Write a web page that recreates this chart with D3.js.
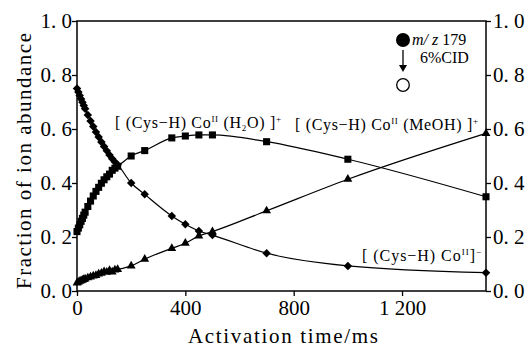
<!DOCTYPE html>
<html>
<head>
<meta charset="utf-8">
<script src="https://cdn.jsdelivr.net/npm/d3@7"></script>
<style>
  body { margin: 0; background: #fff; }
</style>
</head>
<body>
<div id="chart"></div>
<script>
// activation times (ms)
var times = [0, 5, 10, 15, 20, 25, 30, 40, 50, 60, 70, 80, 90, 100, 110, 120, 130, 140, 150,
             200, 250, 350, 400, 450, 500, 700, 1000, 1510];

// [(Cys-H)Co(II)]-  (diamonds, decreasing)
var coValues = [0.750, 0.737, 0.724, 0.711, 0.699, 0.687, 0.675, 0.652, 0.630, 0.609, 0.589, 0.570,
                0.552, 0.535, 0.519, 0.504, 0.490, 0.478, 0.468,
                0.400, 0.358, 0.278, 0.247, 0.222, 0.207, 0.140, 0.093, 0.068];

// [(Cys-H)Co(II)(H2O)]+  (squares)
var h2oValues = [0.220, 0.233, 0.245, 0.258, 0.269, 0.281, 0.292, 0.313, 0.333, 0.352, 0.369, 0.384,
                 0.399, 0.412, 0.423, 0.433, 0.447, 0.455, 0.462,
                 0.500, 0.520, 0.567, 0.574, 0.578, 0.578, 0.553, 0.488, 0.349];

// [(Cys-H)Co(II)(MeOH)]+  (triangles, increasing)
var meohValues = [0.030, 0.033, 0.036, 0.038, 0.040, 0.043, 0.045, 0.049, 0.052, 0.056, 0.058, 0.063,
                  0.066, 0.072, 0.070, 0.076, 0.071, 0.078, 0.080,
                  0.093, 0.118, 0.158, 0.177, 0.204, 0.220, 0.297, 0.414, 0.584];

var yTicks = [0, 0.2, 0.4, 0.6, 0.8, 1.0];
var xTicks = [0, 400, 800, 1200];

var FONT = "'Liberation Serif'";
var W = 531, H = 347;
var svg = d3.select("#chart").append("svg")
    .attr("width", W).attr("height", H);

var x = d3.scaleLinear().domain([0, 1510]).range([77, 486]);
var y = d3.scaleLinear().domain([0, 1]).range([291, 21]);

var fmtY = function (d) { return d3.format(".1f")(d).replace(".", ". "); };
var fmtX = function (d) { return d >= 1000 ? "1 " + d3.format("03d")(d % 1000) : String(d); };

// frame
svg.append("rect")
    .attr("x", 77).attr("y", 21)
    .attr("width", 486 - 77).attr("height", 291 - 21)
    .attr("fill", "none").attr("stroke", "#000").attr("stroke-width", 1.5);

function styleAxis(g, size) {
    g.attr("font-family", null);
    g.select(".domain").remove();
    g.selectAll(".tick line").attr("stroke", "#000").attr("stroke-width", 1.3);
    g.selectAll(".tick text").attr("font-size", size).attr("fill", "#000");
}

svg.append("g")
    .attr("transform", "translate(77,0)")
    .call(d3.axisLeft(y).tickValues(yTicks).tickFormat(fmtY).tickSize(5).tickPadding(0))
    .call(styleAxis, 21);

svg.append("g")
    .attr("transform", "translate(486,0)")
    .call(d3.axisRight(y).tickValues(yTicks).tickFormat(fmtY).tickSize(5).tickPadding(2))
    .call(styleAxis, 21);

svg.append("g")
    .attr("transform", "translate(0,291)")
    .call(d3.axisBottom(x).tickValues(xTicks).tickFormat(fmtX).tickSize(5).tickPadding(4))
    .call(styleAxis, 21);

// axis titles
svg.append("text")
    .attr("transform", "translate(31,161) rotate(-90)")
    .attr("text-anchor", "middle")
    .attr("font-size", 21)
    .attr("textLength", 256).attr("lengthAdjust", "spacing")
    .text("Fraction of ion abundance");

svg.append("text")
    .attr("x", 283).attr("y", 343)
    .attr("text-anchor", "middle")
    .attr("font-size", 21)
    .attr("textLength", 190).attr("lengthAdjust", "spacing")
    .text("Activation time/ms");

// series
var series = [
    {name: "co", values: coValues, shape: "diamond"},
    {name: "h2o", values: h2oValues, shape: "square"},
    {name: "meoh", values: meohValues, shape: "triangle"}
];

var line = d3.line()
    .curve(d3.curveMonotoneX)
    .x(function (d) { return x(d.t); })
    .y(function (d) { return y(d.v); });

var symbols = {
    diamond: d3.symbol().type(d3.symbolSquare).size(36),
    square: d3.symbol().type(d3.symbolSquare).size(50),
    triangle: d3.symbol().type(d3.symbolTriangle).size(34)
};

series.forEach(function (s) {
    var data = times.map(function (t, i) { return {t: t, v: s.values[i]}; });

    svg.append("path")
        .datum(data)
        .attr("fill", "none")
        .attr("stroke", "#000")
        .attr("stroke-width", 1.2)
        .attr("d", line);

    svg.append("g").selectAll("path")
        .data(data)
        .join("path")
        .attr("d", symbols[s.shape])
        .attr("fill", "#000")
        .attr("transform", function (d) {
            var tr = "translate(" + x(d.t) + "," + y(d.v) + ")";
            return s.shape === "diamond" ? tr + " rotate(45)" : tr;
        });
});

// ion labels
function ionLabel(px, py, parts, len) {
    var t = svg.append("text")
        .attr("x", px).attr("y", py)
        .attr("font-size", 16)
        .attr("textLength", len).attr("lengthAdjust", "spacing");
    parts.forEach(function (p) {
        var ts = t.append("tspan").text(p[0]);
        if (p[1] === "sup") ts.attr("font-size", 9).attr("dy", -6);
        if (p[1] === "sub") ts.attr("font-size", 9).attr("dy", 3);
        if (p[2]) ts.attr("dy", p[2]);
    });
    return t;
}

ionLabel(115, 128, [
    ["[ (Cys\u2212H) Co"], ["II", "sup"], [" (H", null, 6], ["2", "sub"], ["O) ]", null, -3], ["+", "sup"]
], 166);

ionLabel(295, 130, [
    ["[ (Cys\u2212H) Co"], ["II", "sup"], [" (MeOH) ]", null, 6], ["+", "sup"]
], 183);

ionLabel(362, 261, [
    ["[ (Cys\u2212H) Co"], ["II", "sup"], ["]", null, 6], ["\u2212", "sup"]
], 119);

// precursor / CID legend
svg.append("circle").attr("cx", 403).attr("cy", 40).attr("r", 7).attr("fill", "#000");
var mz = svg.append("text").attr("x", 412).attr("y", 45).attr("font-size", 16);
mz.append("tspan").attr("font-style", "italic").text("m");
mz.append("tspan").attr("font-style", "italic").text("/");
mz.append("tspan").attr("font-style", "italic").text(" z");
mz.append("tspan").text("  179");
svg.append("text").attr("x", 420).attr("y", 63).attr("font-size", 16).text("6%CID");

svg.append("line")
    .attr("x1", 403).attr("y1", 50).attr("x2", 403).attr("y2", 66)
    .attr("stroke", "#000").attr("stroke-width", 1.3);
svg.append("path")
    .attr("d", "M399,65 L407,65 L403,72 Z")
    .attr("fill", "#000");
svg.append("circle").attr("cx", 403).attr("cy", 85).attr("r", 6.3)
    .attr("fill", "#fff").attr("stroke", "#000").attr("stroke-width", 1.3);

svg.selectAll("text").style("font-family", FONT);
</script>
</body>
</html>
